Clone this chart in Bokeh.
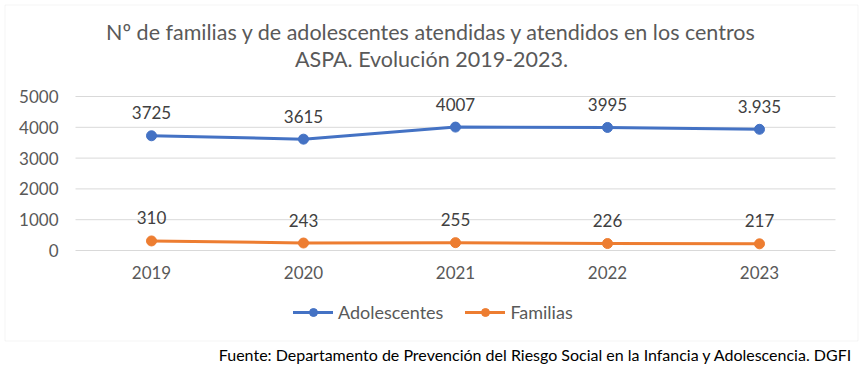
from bokeh.plotting import figure
from bokeh.models import (Range1d, Label, Legend, LegendItem, LinearAxis,
                          BoxAnnotation, ColumnDataSource, FixedTicker)
from bokeh.core.properties import value
from bokeh.embed import file_html
from bokeh.resources import INLINE

# ---- data ----
years = ["2019", "2020", "2021", "2022", "2023"]
adolescentes = [3725, 3615, 4007, 3995, 3935]
adolescentes_labels = ["3725", "3615", "4007", "3995", "3.935"]
familias = [310, 243, 255, 226, 217]
familias_labels = ["310", "243", "255", "226", "217"]
y_ticks = [0, 1000, 2000, 3000, 4000, 5000]
y_max = 5000

title_1 = "Nº de familias y de adolescentes atendidas y atendidos en los centros"
title_2 = "ASPA. Evolución 2019-2023."
source_text = ("Fuente: Departamento de Prevención del Riesgo Social en la "
               "Infancia y Adolescencia. DGFI")

BLUE = "#4472C4"
ORANGE = "#ED7D31"
GRID = "#D9D9D9"
AXIS_TXT = "#595959"
LBL_TXT = "#404040"
FONT = "Lato"

# ---- layout (canvas pixels) ----
W, H = 863, 369
PA_L, PA_R, PA_T, PA_B = 75, 835, 96, 250   # plot area inside the canvas
n = len(years)
px_x = (PA_R - PA_L) / n          # pixels per category slot
px_y = (PA_B - PA_T) / y_max      # pixels per data unit

x_range = Range1d(-PA_L / px_x, n + (W - PA_R) / px_x)
y_range = Range1d(-(H - PA_B) / px_y, y_max + PA_T / px_y)

def dx(px):
    return (px - PA_L) / px_x

def dy(py):
    return (PA_B - py) / px_y

p = figure(width=W, height=H, title=None, x_range=x_range, y_range=y_range,
           x_axis_location=None, y_axis_location=None,
           output_backend="svg", toolbar_location=None,
           min_border=0, min_border_left=0, min_border_right=0,
           min_border_top=0, min_border_bottom=0)
p.outline_line_color = None
p.background_fill_color = "white"
p.border_fill_color = "white"
p.xgrid.visible = False
p.ygrid.visible = False

# category positions (slot centres) through the numeric scale
xpos = [i + 0.5 for i in range(n)]

# axes drawn at fixed locations inside the canvas
xaxis = LinearAxis(fixed_location=0,
                   ticker=FixedTicker(ticks=xpos),
                   major_label_overrides={x: y for x, y in zip(xpos, years)})
yaxis = LinearAxis(fixed_location=0, ticker=FixedTicker(ticks=y_ticks))
for ax in (xaxis, yaxis):
    ax.axis_line_color = None
    ax.major_tick_line_color = None
    ax.minor_tick_line_color = None
    ax.major_tick_out = 0
    ax.major_tick_in = 0
    ax.major_label_text_font = FONT
    ax.major_label_text_font_size = "17px"
    ax.major_label_text_color = AXIS_TXT
xaxis.major_label_standoff = 15
yaxis.major_label_standoff = 17
p.add_layout(xaxis, "below")
p.add_layout(yaxis, "left")

# horizontal gridlines over the plot area
p.segment(x0=[0] * len(y_ticks), x1=[n] * len(y_ticks), y0=y_ticks, y1=y_ticks,
          line_color=GRID, line_width=1)

src = ColumnDataSource(dict(x=xpos, ado=adolescentes, ado_lbl=adolescentes_labels,
                            fam=familias, fam_lbl=familias_labels))

la = p.line("x", "ado", source=src, line_color=BLUE, line_width=3,
            line_cap="round", line_join="round")
sa = p.scatter("x", "ado", source=src, size=10, fill_color=BLUE, line_color=BLUE)
lf = p.line("x", "fam", source=src, line_color=ORANGE, line_width=3,
            line_cap="round", line_join="round")
sf = p.scatter("x", "fam", source=src, size=10, fill_color=ORANGE, line_color=ORANGE)

for ycol, tcol in (("ado", "ado_lbl"), ("fam", "fam_lbl")):
    p.text(x="x", y=ycol, text=tcol, source=src, text_align="center",
           text_baseline="alphabetic", y_offset=-23,
           text_font=value(FONT), text_font_size="17px", text_color=LBL_TXT)

# chart border box
p.add_layout(BoxAnnotation(left=dx(4.5), right=dx(857.5), top=dy(4.5), bottom=dy(340.5),
                           fill_color=None, fill_alpha=0, line_color=GRID, line_width=1,
                           level="underlay"))

# titles
p.add_layout(Label(x=dx(431), y=dy(31.5), text=title_1, text_align="center",
                   text_baseline="alphabetic", text_font=FONT,
                   text_font_size="21.5px", text_color=AXIS_TXT))
p.add_layout(Label(x=dx(431), y=dy(58.5), text=title_2, text_align="center",
                   text_baseline="alphabetic", text_font=FONT,
                   text_font_size="21.5px", text_color=AXIS_TXT))

# source
p.add_layout(Label(x=dx(852), y=dy(354), text=source_text, text_align="right",
                   text_baseline="alphabetic", text_font=FONT,
                   text_font_size="16px", text_color="black"))

# legend (location = bottom-left corner, frame-relative screen units)
legend = Legend(items=[LegendItem(label="Adolescentes", renderers=[la, sa]),
                       LegendItem(label="Familias", renderers=[lf, sf])],
                orientation="horizontal", location=(293, H - 323.3),
                padding=0, margin=0, spacing=22, glyph_width=40, glyph_height=20,
                label_height=20, label_standoff=5,
                label_text_font=FONT, label_text_font_size="18px",
                label_text_color=AXIS_TXT, border_line_color=None,
                background_fill_alpha=0)
p.add_layout(legend, "center")

open("out.html", "w").write(file_html(p, INLINE))
